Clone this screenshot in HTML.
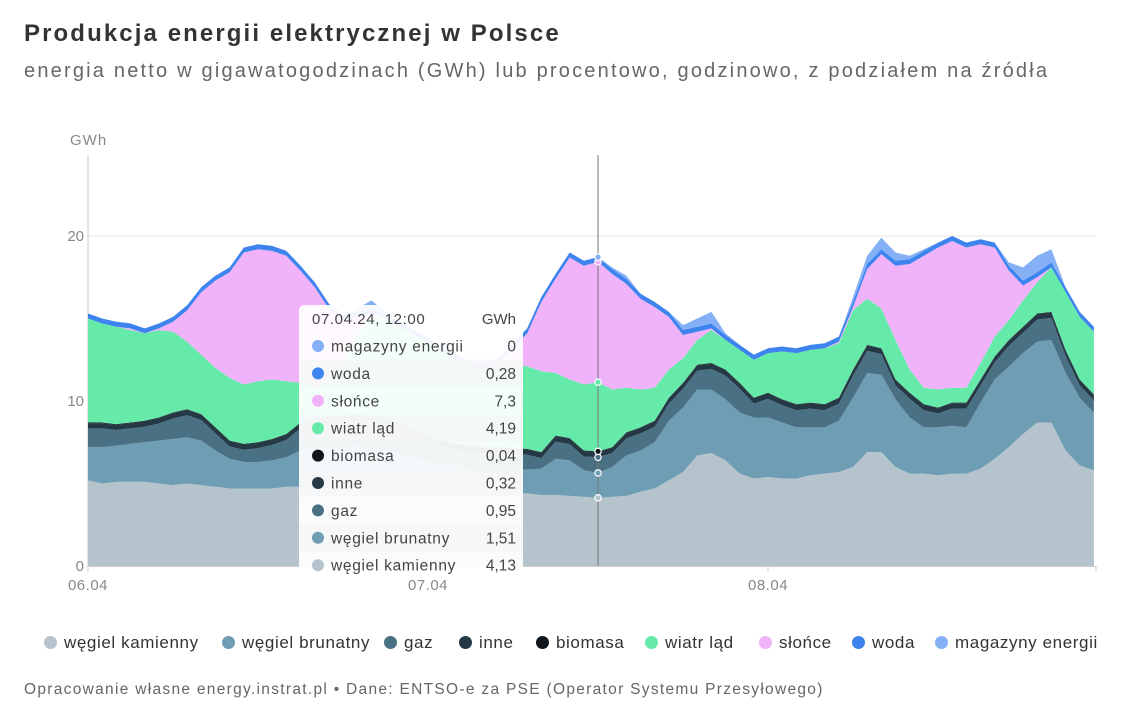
<!DOCTYPE html>
<html><head><meta charset="utf-8">
<style>
body{margin:0;background:#fff;font-family:"Liberation Sans",sans-serif;}
#wrap{position:relative;width:1148px;height:715px;overflow:hidden;}
.t{position:absolute;white-space:nowrap;}
.leg{position:absolute;top:633px;font-size:17px;color:#333;white-space:nowrap;letter-spacing:0.6px;}
.leg i{display:inline-block;width:13px;height:13px;border-radius:50%;margin-right:7px;vertical-align:-1px;}
</style></head><body>
<div id="wrap">
<div class="t" style="left:24px;top:20px;font-size:24px;font-weight:bold;color:#333;letter-spacing:2.1px;">Produkcja energii elektrycznej w Polsce</div>
<div class="t" style="left:24px;top:60px;font-size:20px;color:#666;letter-spacing:2.2px;">energia netto w gigawatogodzinach (GWh) lub procentowo, godzinowo, z podziałem na źródła</div>
<svg id="chart" width="1148" height="715" style="position:absolute;left:0;top:0;"></svg>
<div id="legend"></div>
<div class="t" style="left:24px;top:681px;font-size:15.5px;color:#666;letter-spacing:1.3px;">Opracowanie własne energy.instrat.pl • Dane: ENTSO-e za PSE (Operator Systemu Przesyłowego)</div>
</div>
<script>
const seriesNames=["węgiel kamienny","węgiel brunatny","gaz","inne","biomasa","wiatr ląd","słońce","woda","magazyny energii"];
const seriesColors=["#b5c4cc","#6e9db4","#4a7083","#243846","#10181d","#65eaa9","#f0b2f8","#3e84ee","#85b0f6"];
const xTickLabels=["06.04","07.04","08.04"];
const yTicks=[0,10,20];
const kamienny=[5.2,5.0,5.1,5.1,5.1,5.0,4.9,5.0,4.9,4.8,4.7,4.7,4.7,4.7,4.8,4.8,4.8,4.8,4.8,4.8,4.7,4.7,4.6,4.6,4.5,4.5,4.5,4.4,4.4,4.4,4.4,4.4,4.3,4.3,4.25,4.2,4.13,4.2,4.25,4.5,4.7,5.2,5.7,6.7,6.85,6.4,5.6,5.3,5.4,5.3,5.3,5.5,5.6,5.7,6.0,6.9,6.9,6.0,5.6,5.6,5.5,5.6,5.6,5.9,6.5,7.2,8.0,8.7,8.7,7.0,6.1,5.8];
const brunatny=[2.0,2.2,2.2,2.3,2.4,2.6,2.8,2.8,2.7,2.2,1.8,1.6,1.6,1.7,1.8,2.2,2.4,2.4,2.4,2.5,2.5,2.3,2.2,2.0,1.8,1.6,1.5,1.5,1.4,1.4,1.4,1.45,1.6,2.2,2.15,1.6,1.51,1.8,2.45,2.5,2.8,3.6,3.9,4.0,3.85,3.7,3.7,3.7,3.6,3.4,3.1,2.9,2.8,3.1,4.2,4.8,4.7,4.1,3.4,2.8,2.9,2.9,2.8,4.0,4.8,4.9,4.9,4.9,5.0,4.7,4.1,3.5];
const gaz=[1.14,1.14,0.94,0.94,0.94,1.04,1.24,1.34,1.24,1.04,0.74,0.74,0.84,0.94,1.04,1.34,1.44,1.44,1.54,1.54,1.54,1.54,1.44,1.34,1.24,1.14,1.04,1.04,1.04,1.04,0.99,0.89,0.64,1.04,0.99,0.84,0.95,0.84,1.04,1.04,0.94,1.04,1.14,1.14,1.24,1.44,1.44,0.84,1.14,1.04,1.04,1.14,1.04,1.04,1.34,1.34,1.24,0.84,1.14,1.04,0.84,1.04,1.14,1.04,1.04,1.24,1.24,1.34,1.34,1.04,0.74,0.74];
const inne=Array(72).fill(0.32);
const biomasa=Array(72).fill(0.04);
const wiatr=[6.3,6.0,5.9,5.6,5.3,5.3,4.9,4.1,3.6,3.6,3.8,3.6,3.7,3.6,3.2,2.4,2.0,2.5,3.4,4.8,6.0,6.1,5.9,5.7,5.6,5.4,5.1,4.8,4.7,5.0,5.05,5.0,4.9,3.8,3.55,4.0,4.19,3.5,2.7,2.3,2.0,1.7,1.5,1.5,2.0,1.8,2.0,2.3,2.4,2.9,3.1,3.2,3.4,3.3,3.6,2.8,2.4,2.4,1.4,1.0,1.1,0.9,0.9,1.0,1.2,1.2,1.6,1.9,2.7,3.5,3.8,3.8];
const slonce=[0,0,0,0.1,0,0.1,0.6,1.9,3.8,5.3,6.4,8.0,8.0,7.8,7.6,6.8,5.9,4.1,2.4,1.1,0.2,0,0,0,0,0,0,0,0,0.1,1.0,2.0,4.2,5.7,7.4,7.2,7.3,7.0,6.3,5.5,4.9,3.2,1.4,0.5,0.1,0,0,0,0,0,0,0,0,0.1,0.2,1.8,3.3,4.5,6.4,8.0,8.6,8.9,8.5,7.2,5.4,3.0,0.9,0.3,0,0,0,0];
const woda=[0.3,0.3,0.3,0.3,0.3,0.3,0.3,0.3,0.3,0.3,0.3,0.3,0.3,0.3,0.3,0.3,0.3,0.3,0.3,0.3,0.3,0.3,0.3,0.3,0.3,0.3,0.3,0.3,0.3,0.3,0.3,0.3,0.3,0.3,0.3,0.3,0.28,0.3,0.3,0.3,0.3,0.3,0.3,0.3,0.3,0.3,0.3,0.3,0.3,0.3,0.3,0.3,0.3,0.3,0.3,0.3,0.3,0.3,0.3,0.3,0.3,0.3,0.3,0.3,0.3,0.3,0.3,0.3,0.3,0.3,0.3,0.3];
const magazyny=[0,0,0,0,0,0,0,0,0,0,0,0,0,0,0,0,0,0,0,0.2,0.5,0.1,0,0,0,0,0,0,0,0,0,0,0,0,0,0,0,0.1,0.2,0,0,0,0.3,0.5,0.7,0.1,0,0,0,0,0,0,0,0,0.3,0.5,0.7,0.5,0.2,0.1,0,0,0,0,0,0.2,0.8,1.0,0.8,0,0,0];
const tooltipHour=36;
const tooltipTitle="07.04.24, 12:00";

const allSeries=[kamienny,brunatny,gaz,inne,biomasa,wiatr,slonce,woda,magazyny];
const NS="http://www.w3.org/2000/svg";
const svg=document.getElementById('chart');
const X0=88,X1=1096,Y0=566,Y20=236;
const xScale=h=>X0+h*(X1-X0)/71.15;
const yScale=v=>Y0-v*(Y0-Y20)/20;
function mk(tag,attrs,parent){const e=document.createElementNS(NS,tag);for(const k in attrs)e.setAttribute(k,attrs[k]);(parent||svg).appendChild(e);return e;}

yTicks.forEach(t=>{
  const y=yScale(t);
  if(t>0){const g=mk('line',{x1:X0,x2:X1,y1:y,y2:y,stroke:'#e6e6e6','stroke-width':1});
  
  }
  const l=mk('text',{x:84,y:y+5,'text-anchor':'end','font-size':15,fill:'#888','font-family':'Liberation Sans, sans-serif'});
  l.textContent=t;
  
  
});
const yt=mk('text',{x:70,y:145,'font-size':15,fill:'#888','font-family':'Liberation Sans, sans-serif','letter-spacing':1});
yt.textContent='GWh';


const ya=mk('line',{x1:X0,x2:X0,y1:155,y2:Y0,stroke:'#ccc','stroke-width':1});



const n=kamienny.length;
let base=Array(n).fill(0);
const tops=[];
allSeries.forEach((s,si)=>{
  const top=base.map((b,i)=>b+s[i]);
  let d='M'+xScale(0)+','+yScale(top[0]);
  for(let i=1;i<n;i++)d+='L'+xScale(i)+','+yScale(top[i]);
  for(let i=n-1;i>=0;i--)d+='L'+xScale(i)+','+yScale(base[i]);
  d+='Z';
  const p=mk('path',{d:d,fill:seriesColors[si]});
  
  
  tops.push(top);
  base=top;
});
const xa=mk('line',{x1:X0,x2:X1,y1:Y0+0.5,y2:Y0+0.5,stroke:'#ccc','stroke-width':1});


xTickLabels.forEach((lab,i)=>{
  const x=xScale(i*24);
  const tk=mk('line',{x1:x,x2:x,y1:Y0,y2:Y0+6,stroke:'#ccc'});
  
  
  const t=mk('text',{x:x,y:590,'text-anchor':'middle','font-size':15,fill:'#888','font-family':'Liberation Sans, sans-serif','letter-spacing':0.5});
  t.textContent=lab;
  
  
});
const endTk=mk('line',{x1:X1,x2:X1,y1:Y0,y2:Y0+6,stroke:'#ccc'});



const cx=xScale(tooltipHour);
const ch=mk('line',{x1:cx,x2:cx,y1:155,y2:Y0,stroke:'#777','stroke-width':1});


[0,1,2,4,5,6,8].forEach(si=>{
  const c=mk('circle',{cx:cx,cy:yScale(tops[si][tooltipHour]),r:3.2,fill:seriesColors[si],stroke:'#fff','stroke-width':1.2});
  
  
});

const tg=mk('g',{});


mk('rect',{x:299,y:305,width:224,height:275,rx:5,fill:'#ffffff','fill-opacity':0.93},tg);
const th=mk('text',{x:312,y:324,'font-size':15,fill:'#444','font-family':'Liberation Sans, sans-serif','letter-spacing':0.6},tg);
th.textContent=tooltipTitle;


const tu=mk('text',{x:516,y:324,'text-anchor':'end','font-size':15,fill:'#444','font-family':'Liberation Sans, sans-serif'},tg);
tu.textContent='GWh';


for(let r=0;r<9;r++){
  const si=8-r;
  const y=346+r*27.4;
  if(r%2==1)mk('rect',{x:299,y:y-13.7,width:224,height:27.4,fill:'#f3f5f7','fill-opacity':0.7},tg);
  mk('circle',{cx:318,cy:y,r:6,fill:seriesColors[si]},tg);
  const lt=mk('text',{x:331,y:y+5.5,'font-size':15.5,fill:'#444','font-family':'Liberation Sans, sans-serif','letter-spacing':0.7},tg);
  lt.textContent=seriesNames[si];
  
  
  const vt=mk('text',{x:516,y:y+5.5,'text-anchor':'end','font-size':15.5,fill:'#444','font-family':'Liberation Sans, sans-serif'},tg);
  vt.textContent=String(allSeries[si][tooltipHour]).replace('.',',');
  
  
}

const legX=[44,222,384,459,536,645,759,852,935];
const lg=document.getElementById('legend');
seriesNames.forEach((nm,i)=>{
  const d=document.createElement('div');
  d.className='leg';
  d.style.left=legX[i]+'px';
  
  
  d.innerHTML='<i style="background:'+seriesColors[i]+'"></i>'+nm;
  lg.appendChild(d);
});
</script>
</body></html>
